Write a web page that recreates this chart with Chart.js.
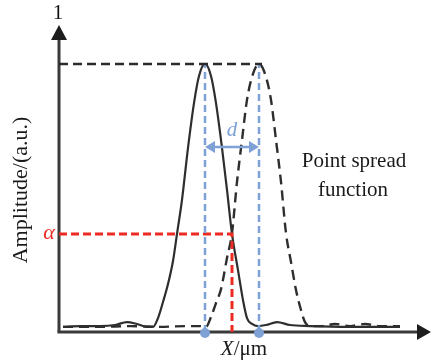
<!DOCTYPE html>
<html><head><meta charset="utf-8">
<script src="https://cdn.jsdelivr.net/npm/chart.js@4/dist/chart.umd.min.js"></script>
<style>html,body{margin:0;padding:0;background:#fff}#c{display:block}</style>
</head><body>
<canvas id="c" width="432" height="362"></canvas>
<script>
// Solid PSF
const solidX = [0.4,2.1,4.1,5.6,6.8,7.8,8.8,9.4,9.9,10.4,10.9,11.4,11.8,12.3,12.9,13.5,14.0,14.6,15.2,15.7,16.3,16.8,17.3,17.9,18.4,18.8,19.3,19.9,20.7,21.8,23.1,25.1,29.1,34.1];
const solidY = [0.019,0.022,0.022,0.026,0.037,0.030,0.019,0.019,0.052,0.112,0.179,0.265,0.366,0.493,0.687,0.854,0.955,1.0,0.955,0.854,0.687,0.530,0.366,0.231,0.119,0.052,0.030,0.022,0.026,0.037,0.026,0.022,0.019,0.019];
// Shifted (dashed) PSF
const dashX = [0.4,4.1,7.1,10.1,12.6,14.1,14.7,15.2,15.7,16.2,16.8,17.3,17.8,18.3,18.8,19.4,20.0,20.6,21.2,21.7,22.2,22.7,23.2,23.7,24.2,24.6,25.3,26.3,27.6,29.1,30.6,32.1,34.1];
const dashY = [0.019,0.019,0.022,0.019,0.022,0.022,0.019,0.056,0.108,0.160,0.276,0.369,0.560,0.716,0.866,0.963,1.0,0.963,0.866,0.716,0.560,0.369,0.261,0.157,0.082,0.037,0.022,0.022,0.030,0.022,0.030,0.022,0.022];
// Markers
const peakXs = [14.6, 20.0];
const peakY = 1.0;
const alphaLevel = 0.366;
const alphaX = 17.3;
const dLevel = 0.69;
const labels = {top:"1", yTitle:"Amplitude/(a.u.)", xTitleItalic:"X", xTitleRest:"/μm", alpha:"α", d:"d", psf1:"Point spread", psf2:"function"};

const pts = (xs, ys) => xs.map((x,i)=>({x:x,y:ys[i]}));
const BLUE = '#7ea1d6', RED = '#ec2a22', INK = '#2e2e2e';
const SERIF = '"Liberation Serif", "DejaVu Serif", serif';

const overlay = {
  id:'overlay',
  beforeDatasetsDraw(chart){
    const {ctx, chartArea:a, scales:{x,y}} = chart;
    const x0 = x.getPixelForValue(0), y0 = y.getPixelForValue(0);
    ctx.save();
    ctx.strokeStyle = '#3a3a3a'; ctx.fillStyle = '#1e1e1e'; ctx.lineWidth = 3;
    ctx.beginPath(); ctx.moveTo(x0, y0); ctx.lineTo(x0, a.top+12); ctx.stroke();
    ctx.beginPath(); ctx.moveTo(x0-1.5, y0); ctx.lineTo(a.right-12, y0); ctx.stroke();
    ctx.beginPath(); ctx.moveTo(x0, a.top-3); ctx.lineTo(x0-8, a.top+12); ctx.lineTo(x0+8, a.top+12); ctx.closePath(); ctx.fill();
    ctx.beginPath(); ctx.moveTo(a.right, y0); ctx.lineTo(a.right-14, y0-8); ctx.lineTo(a.right-14, y0+8); ctx.closePath(); ctx.fill();
    ctx.restore();
  },
  afterDatasetsDraw(chart){
    const {ctx, scales:{x,y}} = chart;
    const x0 = x.getPixelForValue(0);
    ctx.save();
    ctx.fillStyle = BLUE;
    peakXs.forEach(px=>{ctx.beginPath(); ctx.arc(x.getPixelForValue(px), y.getPixelForValue(0)+1, 5, 0, Math.PI*2); ctx.fill();});
    const xa = x.getPixelForValue(peakXs[0]), xb = x.getPixelForValue(peakXs[1]), yd = y.getPixelForValue(dLevel);
    ctx.strokeStyle = BLUE; ctx.lineWidth = 2.5;
    ctx.beginPath(); ctx.moveTo(xa+6, yd); ctx.lineTo(xb-6, yd); ctx.stroke();
    ctx.beginPath(); ctx.moveTo(xa, yd); ctx.lineTo(xa+10, yd-6); ctx.lineTo(xa+10, yd+6); ctx.closePath(); ctx.fill();
    ctx.beginPath(); ctx.moveTo(xb, yd); ctx.lineTo(xb-10, yd-6); ctx.lineTo(xb-10, yd+6); ctx.closePath(); ctx.fill();
    ctx.textAlign = 'center'; ctx.textBaseline = 'middle';
    ctx.fillStyle = '#111';
    ctx.font = '21px ' + SERIF;
    ctx.fillText(labels.top, x0-1, 13);
    ctx.fillStyle = BLUE; ctx.font = 'italic 21px ' + SERIF;
    ctx.fillText(labels.d, (xa+xb)/2, yd-17);
    ctx.fillStyle = RED; ctx.font = 'italic 22px ' + SERIF;
    ctx.fillText(labels.alpha, x0-10, y.getPixelForValue(alphaLevel)-1);
    ctx.textBaseline = 'alphabetic';
    ctx.fillStyle = '#1a1a1a'; ctx.font = '21px ' + SERIF;
    ctx.fillText(labels.psf1, 354, 167);
    ctx.fillText(labels.psf2, 353, 196);
    const cx = 244, cy = 355;
    ctx.font = 'italic 21px ' + SERIF;
    const w1 = ctx.measureText(labels.xTitleItalic).width;
    ctx.font = '21px ' + SERIF;
    const w2 = ctx.measureText(labels.xTitleRest).width;
    const sx = cx - (w1+w2)/2;
    ctx.textAlign = 'left';
    ctx.font = 'italic 21px ' + SERIF;
    ctx.fillText(labels.xTitleItalic, sx, cy);
    ctx.font = '21px ' + SERIF;
    ctx.fillText(labels.xTitleRest, sx+w1, cy);
    ctx.translate(27, 190); ctx.rotate(-Math.PI/2);
    ctx.textAlign = 'center';
    ctx.font = '22px ' + SERIF;
    ctx.fillText(labels.yTitle, 0, 0);
    ctx.restore();
  }
};

new Chart(document.getElementById('c'), {
  type:'line',
  data:{datasets:[
    {data:[{x:0,y:peakY},{x:peakXs[1]+0.3,y:peakY}], borderColor:'#2a2a2a', borderWidth:2.5, borderDash:[9,5], pointRadius:0},
    {data:[{x:peakXs[0],y:0},{x:peakXs[0],y:peakY}], borderColor:BLUE, borderWidth:2.5, borderDash:[7,4], pointRadius:0},
    {data:[{x:peakXs[1],y:0},{x:peakXs[1],y:peakY}], borderColor:BLUE, borderWidth:2.5, borderDash:[7,4], pointRadius:0},
    {data:[{x:0,y:alphaLevel},{x:alphaX,y:alphaLevel},{x:alphaX,y:0}], borderColor:RED, borderWidth:3, borderDash:[8,4], pointRadius:0},
    {data:pts(solidX, solidY), borderColor:INK, borderWidth:2.2, pointRadius:0, cubicInterpolationMode:'monotone'},
    {data:pts(dashX, dashY), borderColor:INK, borderWidth:2.4, borderDash:[10,6], pointRadius:0, cubicInterpolationMode:'monotone'}
  ]},
  options:{
    responsive:false, animation:false, devicePixelRatio:1,
    layout:{padding:{left:59, right:1, top:28, bottom:30}},
    plugins:{legend:{display:false}, tooltip:{enabled:false}},
    scales:{
      x:{type:'linear', min:0, max:37.2, display:false},
      y:{type:'linear', min:0, max:1.134, display:false}
    }
  },
  plugins:[overlay]
});
</script>
</body></html>
